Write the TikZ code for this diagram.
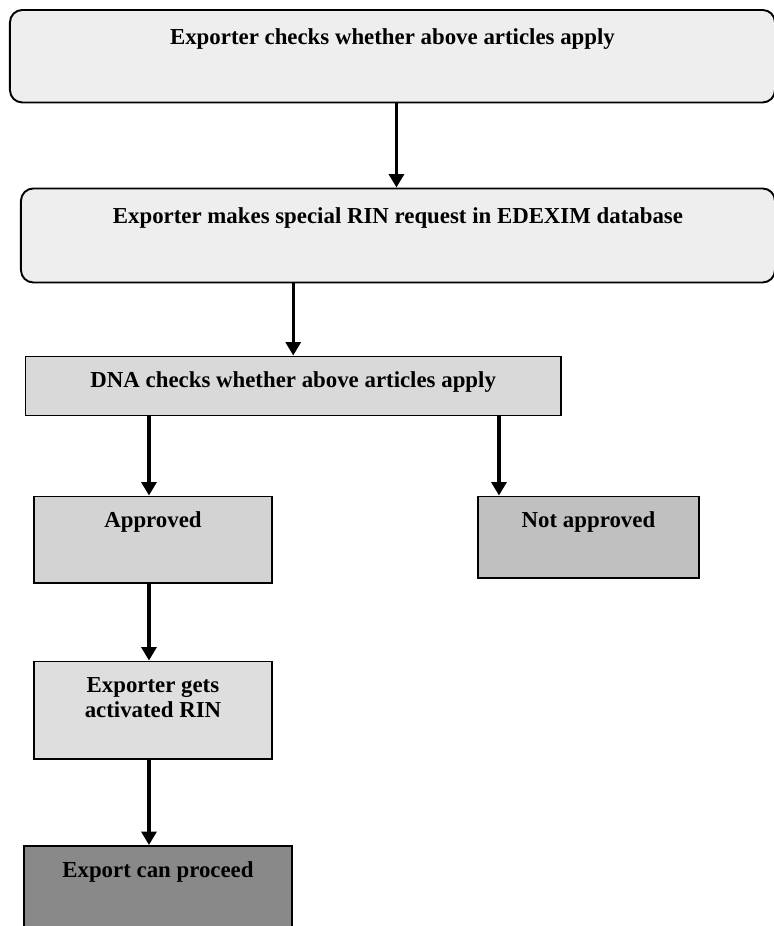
\documentclass[tikz,border=0pt]{standalone}
\usepackage{fontspec}
\setmainfont{Liberation Serif}
\usetikzlibrary{arrows.meta, positioning, calc}
\usepackage{xcolor}
\definecolor{paleGray}{RGB}{238, 238, 238}
\definecolor{dnaGray}{RGB}{217, 217, 217}
\definecolor{okGray}{RGB}{211, 211, 211}
\definecolor{noGray}{RGB}{192, 192, 192}
\definecolor{rinGray}{RGB}{222, 222, 222}
\definecolor{goGray}{RGB}{137, 137, 137}

\begin{document}
\begin{tikzpicture}[
    stage/.style={rectangle, draw=black, line width=1.1pt, anchor=north west, inner xsep=0pt, inner ysep=0pt, align=center, font=\fontsize{13}{14.5}\selectfont\bfseries},
    roundstage/.style={stage, rounded corners=7pt},
    arrow/.style={-{Triangle[length=0.27cm, width=0.3cm]}, line width=1.9pt}
]
\useasboundingbox (0,0) rectangle (15.48,-18.52);

% Exporter side
\node[roundstage, fill=paleGray, minimum width=15.3cm, text height=0.70cm, text depth=1.15cm] (check) at (0.18,-0.18) {Exporter checks whether above articles apply};
\node[roundstage, fill=paleGray, minimum width=15.08cm, text height=0.70cm, text depth=1.18cm] (req) at (0.40,-3.75) {Exporter makes special RIN request in EDEXIM database};

% DNA decision
\node[stage, fill=dnaGray, minimum width=10.71cm, text height=0.63cm, text depth=0.55cm] (dna) at (0.49,-7.11) {DNA checks whether above articles apply};
\node[stage, fill=okGray, minimum width=4.76cm, text height=0.63cm, text depth=1.10cm] (ok) at (0.66,-9.91) {Approved};
\node[stage, fill=noGray, minimum width=4.42cm, text height=0.63cm, text depth=1.0cm] (no) at (9.54,-9.91) {Not approved};
\node[stage, fill=rinGray, minimum width=4.76cm, text height=1.13cm, text depth=0.82cm] (rin) at (0.66,-13.21) {Exporter gets\\activated RIN};
\node[stage, fill=goGray, minimum width=5.36cm, text height=0.64cm, text depth=1.4cm] (go) at (0.46,-16.90) {Export can proceed};

% Branch points
\coordinate (okTop) at ([xshift=-0.08cm]ok.north);
\coordinate (noTop) at ([xshift=-1.79cm]no.north);

\draw[arrow] ([xshift=0.08cm]check.south) -- ([xshift=0.08cm]check.south |- req.north);
\draw[arrow] (req.south -| dna.north) -- (dna.north);
\draw[arrow] (okTop |- dna.south) -- (okTop);
\draw[arrow] (noTop |- dna.south) -- (noTop);
\draw[arrow] ([xshift=-0.08cm]ok.south) -- ([xshift=-0.08cm]rin.north);
\draw[arrow] ([xshift=-0.08cm]rin.south) -- ([xshift=-0.08cm]rin.south |- go.north);

\end{tikzpicture}
\end{document}
